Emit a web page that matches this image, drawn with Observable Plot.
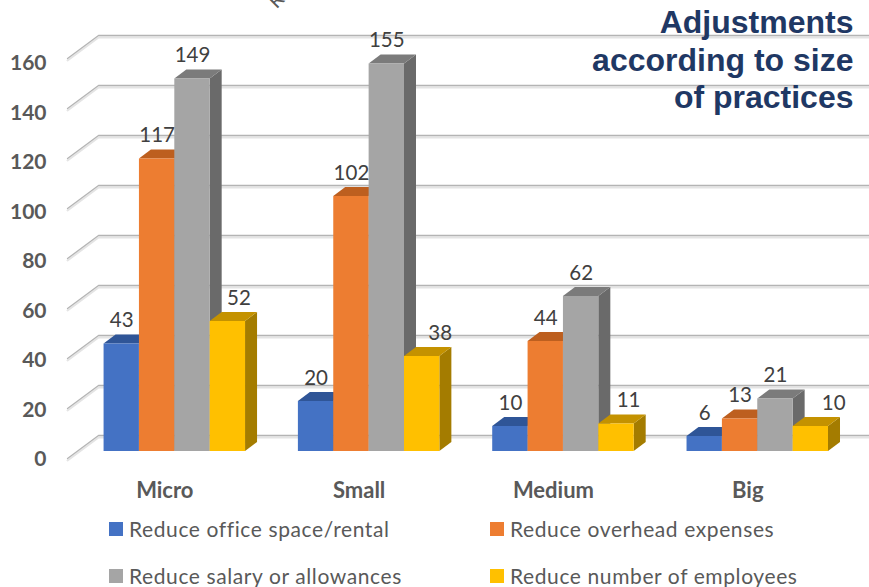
<!DOCTYPE html>
<html>
<head>
<meta charset="utf-8">
<script src="https://cdn.jsdelivr.net/npm/d3@7"></script>
<script src="https://cdn.jsdelivr.net/npm/@observablehq/plot@0.6"></script>
<style>
html,body{margin:0;padding:0;background:#fff;overflow:hidden;width:869px;height:587px}
svg{display:block}
#legend{display:grid;grid-template-columns:381px 360px;row-gap:25px;padding:13px 0 0 109px;font:21px/22px Lato,sans-serif;letter-spacing:.6px;color:#595959}
#legend div{display:flex;align-items:center;white-space:nowrap}
#legend i{display:inline-block;width:14px;height:14px;margin-right:6px}
</style>
</head>
<body>
<div id="chart"></div>
<div id="legend"></div>
<script>
const categories = ["Micro", "Small", "Medium", "Big"];
const seriesNames = ["Reduce office space/rental", "Reduce overhead expenses", "Reduce salary or allowances", "Reduce number of employees"];
const officeSpace = [43, 20, 10, 6];
const overhead = [117, 102, 44, 13];
const salary = [149, 155, 62, 21];
const employees = [52, 38, 11, 10];
const yTicks = [0, 20, 40, 60, 80, 100, 120, 140, 160];
const titleText = "Adjustments\naccording to size\nof practices";
const frontColors = ["#4472c4", "#ed7d31", "#a5a5a5", "#ffc000"];
const topColors = ["#2f5597", "#bd5f1f", "#7b7b7b", "#c49200"];
const sideColors = ["#264478", "#9e4a14", "#6a6a6a", "#a47c00"];

const allSeries = [officeSpace, overhead, salary, employees];
const W = 869, H = 505;
const barW = 0.182, depthX = 0.0618, depthY = 3.6;
const wallFrontX = -0.552, wallBackX = -0.3926, wallFrontY = -2.8, wallBackY = 6.4;
const xMin = -0.897, xMax = 3.575;
const lastSeriesLabelNudge = [0.057, 0.093, 0.062, 0.118];

const bars = allSeries.flatMap((vals, s) => vals.map((v, c) => {
  const x1 = c + (s - 2) * barW;
  return {id: `${c}-${s}`, s, c, v, x1, x2: x1 + barW,
    mid: x1 + barW / 2 + (s === 3 ? lastSeriesLabelNudge[c] : 0)};
}));

const sideFaces = s => bars.filter(b => b.s === s).flatMap(b => [
  {id: b.id, x: b.x2, y1: 0, y2: b.v},
  {id: b.id, x: b.x2 + depthX, y1: depthY, y2: b.v + depthY}
]);
const topFaces = s => bars.filter(b => b.s === s).flatMap(b => [
  {id: b.id, y: b.v, x1: b.x1, x2: b.x2},
  {id: b.id, y: b.v + depthY, x1: b.x1 + depthX, x2: b.x2 + depthX}
]);

const grid = yTicks.flatMap(t => [
  {t, x: wallFrontX, y: t + wallFrontY},
  {t, x: wallBackX, y: t + wallBackY},
  {t, x: xMax, y: t + wallBackY}
]);

const lato = "Lato, sans-serif";
const chart = Plot.plot({
  width: W, height: H,
  marginTop: 0, marginRight: 0, marginBottom: 0, marginLeft: 0,
  style: {background: "transparent", overflow: "visible"},
  x: {type: "linear", domain: [xMin, xMax], range: [0, W], axis: null},
  y: {type: "linear", domain: [0, 451 / 2.5], range: [451, 0], axis: null},
  marks: [
    Plot.line(grid, {x: "x", y: "y", z: "t", stroke: "#e4e4e4", strokeWidth: 2, dy: 2}),
    Plot.line(grid, {x: "x", y: "y", z: "t", stroke: "#b4b4b4", strokeWidth: 1.3}),
    Plot.text(yTicks, {x: wallFrontX, y: d => d * 0.99 - 3.2, text: d => String(d), textAnchor: "end", dx: -21,
      fontFamily: lato, fontWeight: 700, fontSize: 21, fill: "#595959"}),
    ...allSeries.flatMap((_, s) => [
      Plot.areaY(sideFaces(s), {x: "x", y1: "y1", y2: "y2", z: "id", fill: sideColors[s]}),
      Plot.areaX(topFaces(s), {y: "y", x1: "x1", x2: "x2", z: "id", fill: topColors[s]}),
      Plot.rect(bars.filter(b => b.s === s), {x1: "x1", x2: "x2", y1: 0, y2: "v", fill: frontColors[s]})
    ]),
    Plot.text(bars, {x: "mid", y: "v", text: d => String(d.v), lineAnchor: "bottom", dy: -17,
      fontFamily: lato, fontSize: 20.5, fill: "#404040"}),
    Plot.text(categories, {x: (d, i) => i, y: 0, text: d => d, lineAnchor: "middle", dx: -10, dy: 39,
      fontFamily: lato, fontWeight: 700, fontSize: 22, fill: "#595959"}),
    Plot.text([titleText], {frameAnchor: "top-right", dx: -16, dy: 6, lineHeight: 1.17, textAnchor: "end",
      fontFamily: "Liberation Sans, Arial, sans-serif", fontWeight: 700, fontSize: 32, fill: "#1f3864"}),
    Plot.text(["R"], {frameAnchor: "top-left", dx: 276, dy: 0, rotate: -45, lineAnchor: "middle", textAnchor: "middle",
      fontFamily: lato, fontSize: 20, fill: "#595959"})
  ]
});
document.getElementById("chart").appendChild(chart);

const legend = document.getElementById("legend");
seriesNames.forEach((name, i) => {
  const row = document.createElement("div");
  const sw = document.createElement("i");
  sw.style.background = frontColors[i];
  row.appendChild(sw);
  row.appendChild(document.createTextNode(name));
  legend.appendChild(row);
});
</script>
</body>
</html>
